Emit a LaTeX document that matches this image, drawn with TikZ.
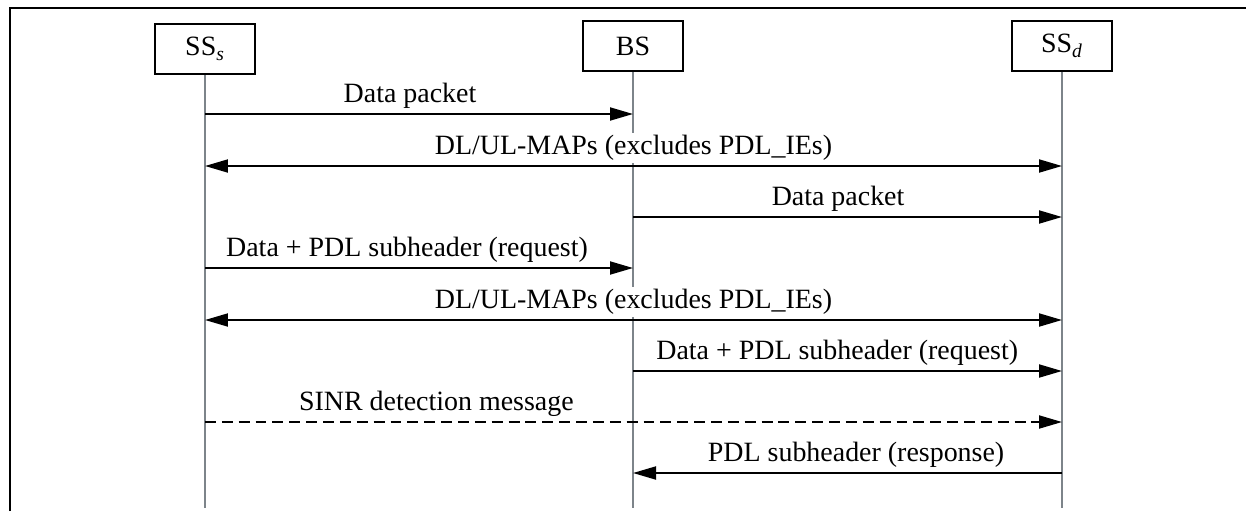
\documentclass[tikz,border=0pt]{standalone}
\usepackage{fontspec}
\setmainfont{Liberation Serif}
\usetikzlibrary{arrows.meta,positioning}
\definecolor{lifegray}{RGB}{125,132,138}

\begin{document}
\begin{tikzpicture}[x=0.02cm,y=-0.02cm,font=\fontsize{15.9}{19}\selectfont,
  >={Triangle[length=4.6mm,width=2.6mm]},
  ent/.style={draw,line width=1.3pt,minimum width=2cm,minimum height=1cm,inner sep=0pt},
  life/.style={draw=lifegray,line width=0.8pt},
  lbl/.style={above=1pt,fill=white,inner sep=1.5pt}]
\useasboundingbox (0,0) rectangle (1246,511);
\draw[line width=1.1pt] (10,511) -- (10,8) -- (1246,8);
\node[ent] (S) at (205,49) {SS\textsubscript{\textit{s}}};
\node[ent] (B) at (633,46) {BS};
\node[ent] (D) at (1062,46) {SS\textsubscript{\textit{d}}};
\foreach \n/\x in {S/205,B/633,D/1062} {
  \coordinate (\n end) at (\x,508);
  \draw[life] (\n.south) -- (\n end);
}
\foreach \r/\y in {1/114,2/166,3/217,4/268,5/320,6/371,7/422,8/473} {
  \coordinate (S\r) at (205,\y);
  \coordinate (B\r) at (633,\y);
  \coordinate (D\r) at (1062,\y);
}
\path[line width=1.1pt]
(S1) edge[->] node[lbl,pos=0.479]{Data packet} (B1)
(S2) edge[<->] node[lbl]{DL/UL-MAPs (excludes PDL\_IEs)} (D2)
(B3) edge[->] node[lbl,pos=0.478]{Data packet} (D3)
(S4) edge[->] node[lbl,pos=0.472]{Data + PDL subheader (request)} (B4)
(S5) edge[<->] node[lbl]{DL/UL-MAPs (excludes PDL\_IEs)} (D5)
(B6) edge[->] node[lbl,pos=0.476]{Data + PDL subheader (request)} (D6)
(S7) edge[->,dash pattern=on 6.2pt off 3.4pt] node[lbl,pos=0.27]{SINR detection message} (D7)
(D8) edge[->] node[lbl,pos=0.48]{PDL subheader (response)} (B8);
\end{tikzpicture}
\end{document}
